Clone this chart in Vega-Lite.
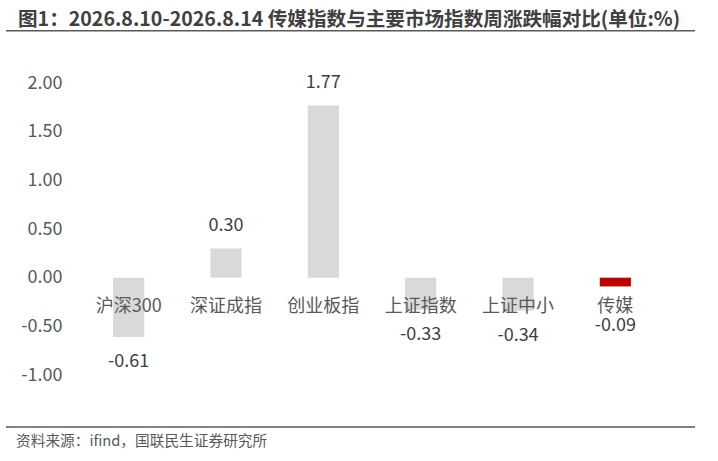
{
  "$schema": "https://vega.github.io/schema/vega-lite/v6.json",
  "autosize": "none",
  "width": 584,
  "height": 292,
  "padding": {"left": 80, "top": 83, "right": 54, "bottom": 86},
  "background": "white",
  "data": {
    "values": [
      {"name": "沪深300", "value": -0.61},
      {"name": "深证成指", "value": 0.30},
      {"name": "创业板指", "value": 1.77},
      {"name": "上证指数", "value": -0.33},
      {"name": "上证中小", "value": -0.34},
      {"name": "传媒", "value": -0.09}
    ]
  },
  "transform": [
    {"calculate": "replace(format(datum.value, '.2f'), '\u2212', '-')", "as": "label"}
  ],
  "encoding": {
    "x": {
      "field": "name",
      "type": "nominal",
      "sort": null,
      "axis": null,
      "scale": {"paddingInner": 0.68, "paddingOuter": 0.34}
    }
  },
  "layer": [
    {
      "mark": {"type": "bar"},
      "encoding": {
        "y": {
          "field": "value",
          "type": "quantitative",
          "scale": {"domain": [-1, 2], "nice": false, "zero": false},
          "axis": {
            "values": [-1, -0.5, 0, 0.5, 1, 1.5, 2],
            "labelExpr": "replace(format(datum.value, '.2f'), '\u2212', '-')",
            "title": null,
            "domain": false,
            "ticks": false,
            "grid": false,
            "labelPadding": 18,
            "labelFont": "Noto Sans CJK SC",
            "labelFontSize": 18,
            "labelColor": "#595959"
          }
        },
        "color": {
          "condition": {"test": "datum.name === '传媒'", "value": "#c00000"},
          "value": "#d9d9d9"
        }
      }
    },
    {
      "mark": {"type": "rule", "color": "#d9d9d9", "strokeWidth": 1},
      "encoding": {"y": {"datum": 0}}
    },
    {
      "transform": [{"filter": "datum.value > 0"}],
      "mark": {"type": "text", "baseline": "middle", "dy": -22, "font": "Noto Sans CJK SC", "fontSize": 18, "color": "#404040"},
      "encoding": {
        "y": {"field": "value", "type": "quantitative"},
        "text": {"field": "label"}
      }
    },
    {
      "transform": [{"filter": "datum.value < 0 && datum.name !== '传媒'"}],
      "mark": {"type": "text", "baseline": "middle", "dy": 25, "font": "Noto Sans CJK SC", "fontSize": 18, "color": "#404040"},
      "encoding": {
        "y": {"field": "value", "type": "quantitative"},
        "text": {"field": "label"}
      }
    },
    {
      "transform": [{"filter": "datum.name === '传媒'"}],
      "mark": {"type": "text", "baseline": "middle", "dy": 40, "font": "Noto Sans CJK SC", "fontSize": 18, "color": "#404040"},
      "encoding": {
        "y": {"field": "value", "type": "quantitative"},
        "text": {"field": "label"}
      }
    },
    {
      "mark": {"type": "text", "baseline": "middle", "font": "Noto Sans CJK SC", "fontSize": 18, "color": "#595959"},
      "encoding": {
        "y": {"datum": -0.3},
        "text": {"field": "name"}
      }
    },
    {
      "data": {"values": [{"title": "图1：2026.8.10-2026.8.14 传媒指数与主要市场指数周涨跌幅对比(单位:%)"}]},
      "transform": [],
      "mark": {"type": "text", "align": "left", "baseline": "middle", "font": "Noto Sans CJK SC", "fontSize": 19.6, "fontWeight": "bold", "color": "#404040"},
      "encoding": {
        "x": {"value": -62},
        "y": {"datum": 2.647},
        "text": {"field": "title"}
      }
    },
    {
      "data": {"values": [{"line": "title"}]},
      "transform": [],
      "mark": {"type": "rule", "color": "#595959", "strokeWidth": 1.5},
      "encoding": {
        "x": {"value": -74},
        "x2": {"value": 615},
        "y": {"datum": 2.537}
      }
    },
    {
      "data": {"values": [{"line": "source"}]},
      "transform": [],
      "mark": {"type": "rule", "color": "#595959", "strokeWidth": 1.5},
      "encoding": {
        "x": {"value": -74},
        "x2": {"value": 615},
        "y": {"datum": -1.534}
      }
    },
    {
      "data": {"values": [{"source": "资料来源：ifind，国联民生证券研究所"}]},
      "transform": [],
      "mark": {"type": "text", "align": "left", "baseline": "middle", "font": "Noto Sans CJK SC", "fontSize": 14.7, "color": "#595959"},
      "encoding": {
        "x": {"value": -64},
        "y": {"datum": -1.688},
        "text": {"field": "source"}
      }
    }
  ],
  "config": {
    "view": {"stroke": null}
  }
}
